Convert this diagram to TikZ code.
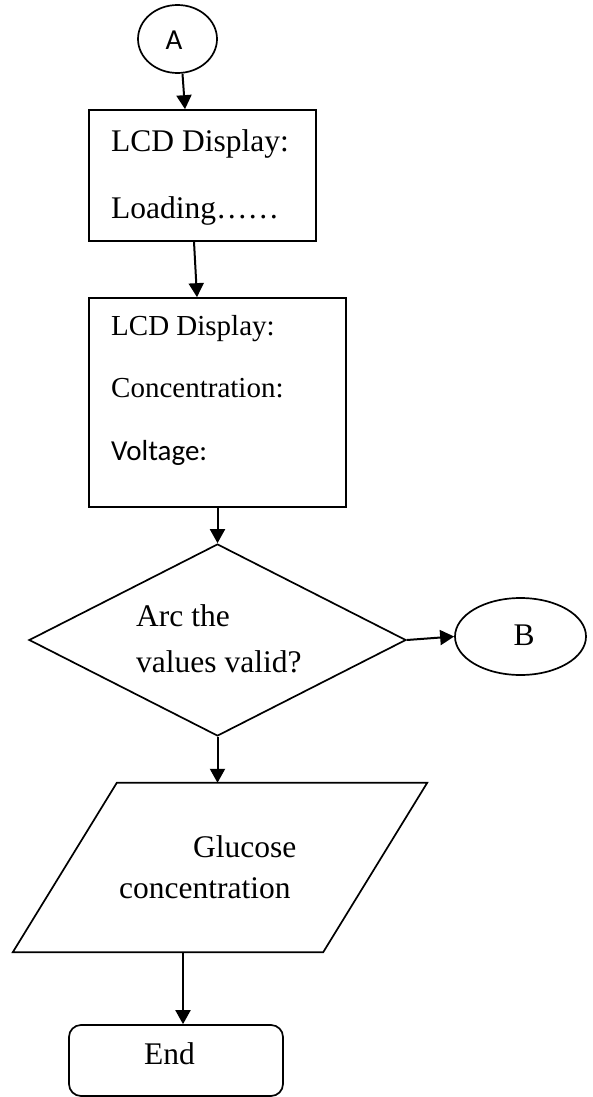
\documentclass[tikz,border=0pt]{standalone}
\usepackage{fontspec}
\setmainfont{Liberation Serif}
\newfontfamily\calfont{Carlito}
\usetikzlibrary{arrows.meta,shapes.geometric}
\begin{document}
\begin{tikzpicture}[x=1pt,y=-1pt,
  outline/.style={draw=black,line width=1.7pt},
  arr/.style={line width=2pt,-{Triangle[length=14pt,width=15pt]}},
  txt/.style={anchor=base west,inner sep=0pt,font=\fontsize{31.5}{36}\selectfont},
  txtsmall/.style={anchor=base west,inner sep=0pt,font=\fontsize{29}{34}\selectfont},
  calibri/.style={anchor=base west,inner sep=0pt,font=\calfont\fontsize{29}{34}\selectfont}]
\useasboundingbox (0,0) rectangle (593,1097);
% shapes
\node[outline,ellipse,minimum width=79pt,minimum height=68pt,inner sep=0pt] (a) at (177.5,39) {};
\node[outline,rectangle,minimum width=227pt,minimum height=131pt,inner sep=0pt] (b1) at (202.5,175.5) {};
\node[outline,rectangle,minimum width=257pt,minimum height=209pt,inner sep=0pt] (b2) at (217.5,402.5) {};
\node[outline,diamond,minimum width=377pt,minimum height=192pt,inner sep=0pt] (d) at (217.5,640) {};
\node[outline,ellipse,minimum width=131pt,minimum height=77pt,inner sep=0pt] (bb) at (520.5,636.5) {};
\node[minimum width=414pt,minimum height=169pt,inner sep=0pt] (p) at (220,867.5) {};
\draw[outline] ([xshift=104pt]p.north west) -- (p.north east) -- ([xshift=-104pt]p.south east) -- (p.south west) -- cycle;
\node[outline,rectangle,rounded corners=12pt,minimum width=214pt,minimum height=71pt,inner sep=0pt] (e) at (176,1060.5) {};
% texts
\node[anchor=base,inner sep=0pt,font=\calfont\fontsize{29}{34}\selectfont] (ta) at (174,50) {A};
\node[txt] (t1a) at (111,151) {LCD Display:};
\node[txt] (t1b) at (111,218) {Loading……};
\node[txtsmall] (t2a) at (111,335) {LCD Display:};
\node[txtsmall] (t2b) at (111,397) {Concentration:};
\node[calibri] (t2c) at (111,460) {Voltage:};
\node[txt] (tda) at (136,626) {Arc the};
\node[txt] (tdb) at (136,672) {values valid?};
\node[anchor=base,inner sep=0pt,font=\fontsize{31.5}{36}\selectfont] (tb) at (524,645) {B};
\node[txt] (tpa) at (193,857) {Glucose};
\node[txt] (tpb) at (119,898) {concentration};
\node[txt] (te) at (144,1064) {End};
% connectors
\draw[arr] ([xshift=5pt]a.south) -- ([xshift=-17.5pt]b1.north);
\draw[arr] ([xshift=-8.5pt]b1.south) -- ([xshift=-20.5pt]b2.north);
\draw[arr] (b2.south) -- (d.north);
\draw[arr] (d.east) -- (bb.west);
\draw[arr] (d.south) -- (d.south |- p.north);
\draw[arr] ([xshift=-37pt]p.south) -- ([xshift=-37pt]p.south |- e.north);
\end{tikzpicture}
\end{document}
